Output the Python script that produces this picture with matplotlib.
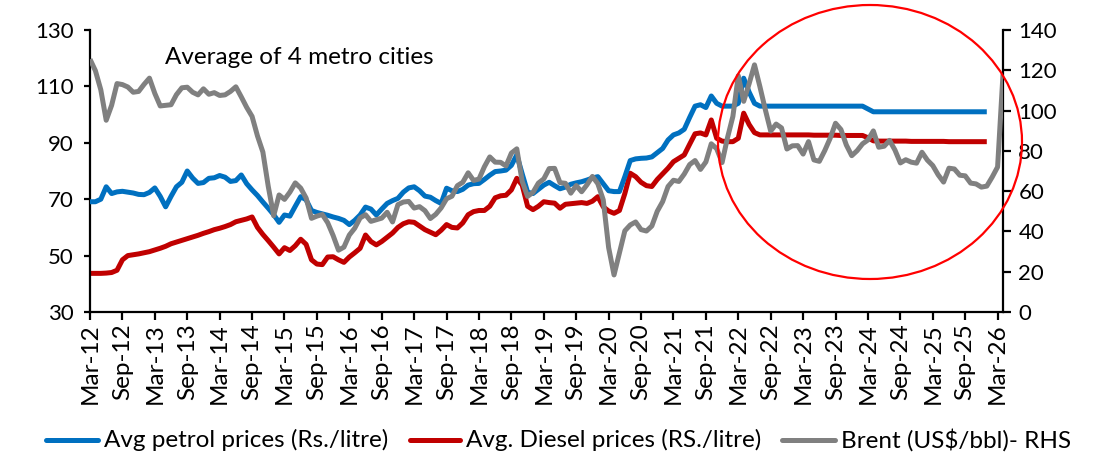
import matplotlib
matplotlib.use("Agg")
import matplotlib.pyplot as plt
from matplotlib.patches import Ellipse
from matplotlib.lines import Line2D

plt.rcParams['font.family'] = ['Lato', 'DejaVu Sans']

# ---------------- data (monthly, Mar-12 onwards) ----------------
tick_labels = ["Mar-12", "Sep-12", "Mar-13", "Sep-13", "Mar-14", "Sep-14", "Mar-15", "Sep-15",
               "Mar-16", "Sep-16", "Mar-17", "Sep-17", "Mar-18", "Sep-18", "Mar-19", "Sep-19",
               "Mar-20", "Sep-20", "Mar-21", "Sep-21", "Mar-22", "Sep-22", "Mar-23", "Sep-23",
               "Mar-24", "Sep-24", "Mar-25", "Sep-25", "Mar-26"]

petrol = [69.1, 69.1, 70.0, 74.4, 72.0, 72.6, 72.8, 72.5, 72.2, 71.7,
          71.6, 72.4, 74.0, 71.0, 67.3, 71.0, 74.4, 76.0, 80.0, 77.5, 75.6, 75.9,
          77.4, 77.6, 78.4, 77.8, 76.3, 76.6, 78.6, 75.5, 73.3, 71.3, 69.0, 66.8,
          64.5, 61.8, 64.4, 64.0, 67.5, 70.9, 69.8, 66.0, 65.3, 64.8, 64.3, 63.7,
          63.2, 62.5, 61.0, 62.5, 64.4, 67.2, 66.5, 64.4, 66.5, 68.5, 69.5, 70.3,
          72.5, 74.0, 74.4, 73.0, 71.1, 70.7, 69.5, 68.5, 73.9, 73.0, 72.7, 73.5,
          75.0, 75.5, 75.6, 77.0, 78.5, 79.8, 80.0, 80.3, 82.0, 85.7, 79.0, 72.5,
          72.0, 73.5, 75.0, 76.0, 74.8, 73.7, 74.3, 75.3, 75.8, 76.2, 76.8, 77.5,
          78.0, 75.5, 73.0, 72.7, 72.7, 78.0, 83.7, 84.3, 84.5, 84.6, 85.0, 86.5,
          88.0, 91.0, 92.8, 93.5, 94.8, 99.0, 103.0, 103.5, 102.5, 106.6, 104.0, 103.0,
          103.0, 103.0, 104.0, 112.9, 108.0, 104.0, 103.0, 103.0, 103.0, 103.0, 103.0, 103.0,
          103.0, 103.0, 103.0, 103.0, 103.0, 103.0, 103.0, 103.0, 103.0, 103.0, 103.0, 103.0,
          103.0, 103.0, 102.0, 101.0, 101.0, 101.0, 101.0, 101.0, 101.0, 101.0, 101.0, 101.0,
          101.0, 101.0, 101.0, 101.0, 101.0, 101.0, 101.0, 101.0, 101.0, 101.0, 101.0, 101.0,
          101.0]

diesel = [43.7, 43.7, 43.7, 43.8, 44.0, 44.8, 48.5, 50.0, 50.3, 50.6,
          51.0, 51.4, 52.0, 52.6, 53.3, 54.2, 54.8, 55.4, 56.0, 56.6, 57.2, 57.9,
          58.5, 59.2, 59.7, 60.3, 61.0, 62.0, 62.5, 63.0, 63.7, 60.0, 57.5, 55.3,
          53.0, 50.6, 52.8, 51.8, 53.5, 55.8, 54.0, 48.5, 47.0, 46.8, 49.5, 49.6,
          48.5, 47.6, 49.5, 51.0, 52.6, 57.3, 55.0, 53.8, 55.0, 56.5, 58.0, 60.0,
          61.3, 62.0, 61.8, 60.5, 59.2, 58.3, 57.4, 59.0, 61.0, 60.0, 59.8, 61.6,
          64.5, 65.6, 66.0, 66.0, 67.5, 70.5, 71.2, 71.4, 73.3, 77.4, 75.0, 67.5,
          66.3, 67.5, 69.1, 68.8, 68.6, 66.8, 68.2, 68.4, 68.6, 68.8, 68.5, 69.3,
          70.9, 67.3, 65.8, 65.0, 66.0, 72.0, 79.2, 78.0, 76.0, 74.8, 74.5, 77.0,
          79.0, 81.0, 83.3, 84.5, 85.7, 89.5, 93.2, 93.5, 92.8, 98.1, 91.6, 90.6,
          90.4, 90.4, 91.6, 100.5, 96.5, 93.6, 92.8, 92.8, 92.8, 92.8, 92.8, 92.8,
          92.8, 92.8, 92.8, 92.8, 92.7, 92.7, 92.7, 92.7, 92.7, 92.6, 92.6, 92.6,
          92.6, 92.6, 91.8, 90.7, 90.6, 90.6, 90.6, 90.6, 90.6, 90.6, 90.5, 90.5,
          90.5, 90.5, 90.5, 90.5, 90.5, 90.4, 90.4, 90.4, 90.4, 90.4, 90.4, 90.4,
          90.4]

brent = [125.5, 119.8, 110.3, 95.2, 102.6, 113.4, 112.9, 111.7, 109.1, 109.5,
         113.0, 116.1, 108.5, 102.3, 102.6, 102.9, 107.9, 111.3, 111.6, 109.1, 107.8, 110.8,
         108.1, 108.9, 107.5, 107.8, 109.5, 111.8, 106.8, 101.6, 97.1, 87.4, 79.4, 62.3,
         47.8, 58.1, 55.9, 59.5, 64.1, 61.5, 56.6, 46.5, 47.6, 48.4, 44.3, 38.0,
         30.7, 32.2, 38.2, 41.6, 46.7, 48.3, 45.0, 45.8, 46.6, 49.5, 44.7, 53.3,
         54.6, 54.9, 51.6, 52.3, 50.3, 46.4, 48.5, 51.7, 56.2, 57.5, 62.7, 64.4,
         69.1, 65.3, 66.0, 72.1, 77.0, 74.4, 74.3, 72.5, 78.9, 81.0, 64.8, 57.4,
         59.4, 64.0, 66.1, 71.2, 71.3, 64.2, 63.9, 59.0, 62.8, 59.7, 63.2, 67.3,
         63.7, 55.7, 32.0, 18.4, 29.4, 40.3, 43.2, 44.7, 40.9, 40.2, 42.7, 50.0,
         54.8, 62.3, 65.4, 64.8, 68.5, 73.2, 75.2, 70.8, 74.5, 83.5, 81.1, 74.2,
         86.5, 97.1, 117.3, 104.6, 113.3, 122.7, 111.9, 100.5, 89.8, 93.3, 91.4, 80.9,
         82.5, 82.6, 78.4, 84.6, 75.5, 74.8, 80.1, 86.2, 93.7, 90.6, 82.9, 77.6,
         80.1, 83.5, 85.4, 89.9, 81.8, 82.3, 85.2, 80.4, 74.0, 75.6, 74.4, 73.9,
         79.3, 75.4, 72.7, 68.1, 64.5, 71.4, 71.0, 67.9, 67.6, 64.0, 63.6, 62.0,
         62.5, 67.0, 72.0, 118.0]

series_names = ["Avg petrol prices (Rs./litre)", "Avg. Diesel prices (RS./litre)",
                "Brent (US$/bbl)- RHS"]
colors = ["#0070C0", "#C00000", "#808080"]
annotation = "Average of 4 metro cities"

# ---------------- figure ----------------
W, H = 1094, 462
fig = plt.figure(figsize=(W / 100, H / 100), dpi=100)


def fx(px):
    return px / W


def fy(py):
    return 1 - py / H


FS_NUM = 15     # numeric tick labels
FS_TXT = 17.5   # text labels (dates, legend, annotation)
ax = fig.add_axes([fx(90), fy(312), fx(1003) - fx(90), fy(30) - fy(312)])
ax2 = ax.twinx()

x_p = list(range(len(petrol)))
x_d = list(range(len(diesel)))
x_b = list(range(len(brent)))
LW = 3.6
ax.plot(x_p, petrol, color=colors[0], lw=LW, solid_capstyle='butt', solid_joinstyle='round', zorder=3)
ax.plot(x_d, diesel, color=colors[1], lw=LW, solid_capstyle='butt', solid_joinstyle='round', zorder=2)
ax2.plot(x_b, brent, color=colors[2], lw=LW, solid_capstyle='butt', solid_joinstyle='round',
         zorder=3, clip_on=True)

ax.set_xlim(0, len(brent) - 1)
ax.set_ylim(30, 130)
ax.set_yticks(range(30, 131, 20))
ax2.set_ylim(0, 140)
ax2.set_yticks(range(0, 141, 20))
ax.set_xticks(range(0, 6 * len(tick_labels), 6))
ax.set_xticklabels(tick_labels, rotation=90, fontsize=FS_TXT)

for a in (ax, ax2):
    a.spines['top'].set_visible(False)
    for s in ('left', 'right', 'bottom'):
        a.spines[s].set_linewidth(1.6)
        a.spines[s].set_color('black')
    a.patch.set_visible(False)

ax.spines['right'].set_visible(False)
ax2.spines['left'].set_visible(False)
ax2.spines['bottom'].set_visible(False)

ax.tick_params(axis='y', direction='out', length=4, width=1.6, labelsize=FS_NUM + 1, pad=8)
ax.tick_params(axis='x', direction='out', length=6, width=1.6, labelsize=FS_TXT, pad=2)
ax2.tick_params(axis='y', direction='out', length=6, width=1.6, labelsize=FS_NUM + 1, pad=5)

# annotation
fig.text(fx(165), fy(57), annotation, fontsize=FS_TXT, ha='left', va='center')

# red highlight ellipse
ell = Ellipse((fx(870), fy(142)), fx(304), 274 / H, transform=fig.transFigure,
              fill=False, edgecolor='#FF0000', lw=1.6, zorder=10)
fig.add_artist(ell)

# legend (manual)
ly = fy(440)
leg = [(46, 98, 104), (410, 460, 466), (782, 835, 841)]
for (x0, x1, xt), name, c in zip(leg, series_names, colors):
    fig.add_artist(Line2D([fx(x0), fx(x1)], [ly, ly], transform=fig.transFigure,
                          color=c, lw=LW, solid_capstyle='round'))
    fig.text(fx(xt), ly, name, fontsize=FS_TXT, ha='left', va='center')

fig.savefig("out.png", dpi=100)
